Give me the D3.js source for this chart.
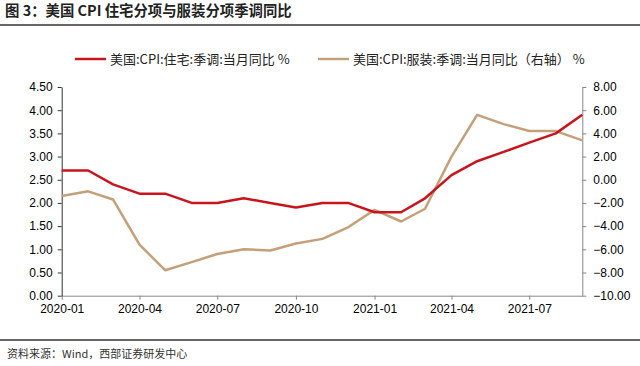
<!DOCTYPE html>
<html><head><meta charset="utf-8">
<script src="https://cdn.jsdelivr.net/npm/d3@7"></script>
<style>
body{margin:0;background:#fff;}
svg{display:block;}
</style></head>
<body>
<svg id="chart" width="640" height="366"></svg>
<script>
const titleText = "图 3：美国 CPI 住宅分项与服装分项季调同比";
const sourceText = "资料来源：Wind，西部证券研发中心";
const seriesNames = ["美国:CPI:住宅:季调:当月同比 %", "美国:CPI:服装:季调:当月同比（右轴） %"];
const months = ["2020-01","2020-02","2020-03","2020-04","2020-05","2020-06","2020-07","2020-08","2020-09","2020-10","2020-11","2020-12",
                "2021-01","2021-02","2021-03","2021-04","2021-05","2021-06","2021-07","2021-08","2021-09"];
const housing = [2.7,2.7,2.4,2.2,2.2,2.0,2.0,2.1,2.0,1.9,2.0,2.0,1.8,1.8,2.1,2.6,2.9,3.1,3.3,3.5,3.9];
const apparel = [-1.4,-1.0,-1.7,-5.6,-7.8,-7.1,-6.4,-6.0,-6.1,-5.5,-5.1,-4.1,-2.6,-3.6,-2.5,2.0,5.6,4.8,4.2,4.2,3.4];
const xTickLabels = ["2020-01","2020-04","2020-07","2020-10","2021-01","2021-04","2021-07"];
const leftTicks = [0,0.5,1,1.5,2,2.5,3,3.5,4,4.5];
const rightTicks = [-10,-8,-6,-4,-2,0,2,4,6,8];

const parse = d3.utcParse("%Y-%m");
const svg = d3.select("#chart");
const L = 61.7, R = 582.3, T = 87, B = 295.7;
const cjk = "'Noto Sans CJK SC', sans-serif";
const latin = "'Liberation Sans', Arial, sans-serif";

const x = d3.scaleUtc().domain([parse(months[0]), parse(months[months.length-1])]).range([L, R]);
const yL = d3.scaleLinear().domain([0, 4.5]).range([B, T]);
const yR = d3.scaleLinear().domain([-10, 8]).range([B, T]);

// title
svg.append("text").attr("x", 5).attr("y", 16).attr("font-family", cjk).attr("font-size", 14.4)
  .attr("font-weight", "bold").attr("fill", "#222").text(titleText);
svg.append("line").attr("x1", 0).attr("x2", 640).attr("y1", 25).attr("y2", 25).attr("stroke", "#333").attr("stroke-width", 1.5);

// footer
svg.append("line").attr("x1", 0).attr("x2", 640).attr("y1", 340).attr("y2", 340).attr("stroke", "#333").attr("stroke-width", 1.5);
svg.append("text").attr("x", 7).attr("y", 358).attr("font-family", cjk).attr("font-size", 11)
  .attr("fill", "#333").text(sourceText);

// axes
const xAxis = d3.axisBottom(x).tickValues(xTickLabels.map(parse)).tickFormat(d3.utcFormat("%Y-%m")).tickSize(4).tickSizeOuter(0);
const gx = svg.append("g").attr("transform", `translate(0,${B})`).call(xAxis);
gx.select(".domain").attr("stroke", "#888");
gx.selectAll(".tick line").attr("stroke", "#888");
gx.selectAll("text").attr("font-family", latin).attr("font-size", 12).attr("fill", "#000").attr("dy", "0.9em");

const gl = svg.append("g").attr("transform", `translate(${L},0)`)
  .call(d3.axisLeft(yL).tickValues(leftTicks).tickFormat(d3.format(".2f")).tickSize(4).tickSizeOuter(0));
gl.select(".domain").attr("stroke", "#333");
gl.selectAll(".tick line").attr("stroke", "#333");
gl.selectAll("text").attr("font-family", latin).attr("font-size", 12).attr("fill", "#000").attr("x", -9);

const gr = svg.append("g").attr("transform", `translate(${R},0)`)
  .call(d3.axisRight(yR).tickValues(rightTicks).tickFormat(d3.format(".2f")).tickSize(4).tickSizeOuter(0));
gr.select(".domain").attr("stroke", "#888");
gr.selectAll(".tick line").attr("stroke", "#888");
gr.selectAll("text").attr("font-family", latin).attr("font-size", 12).attr("fill", "#000").attr("x", 11);

// lines
const colors = ["#c8151d", "#c4a07a"];
const lineL = d3.line().x((d, i) => x(parse(months[i]))).y(d => yL(d));
const lineR = d3.line().x((d, i) => x(parse(months[i]))).y(d => yR(d));
svg.append("path").datum(apparel).attr("d", lineR).attr("fill", "none").attr("stroke", colors[1]).attr("stroke-width", 2.5).attr("stroke-linejoin", "round");
svg.append("path").datum(housing).attr("d", lineL).attr("fill", "none").attr("stroke", colors[0]).attr("stroke-width", 2.5).attr("stroke-linejoin", "round");

// legend
const legend = [{x: 75, name: seriesNames[0], c: colors[0]}, {x: 318, name: seriesNames[1], c: colors[1]}];
legend.forEach(l => {
  svg.append("line").attr("x1", l.x).attr("x2", l.x + 31).attr("y1", 59).attr("y2", 59).attr("stroke", l.c).attr("stroke-width", 2.5);
  svg.append("text").attr("x", l.x + 35).attr("y", 63.5).attr("font-family", cjk).attr("font-size", 13).attr("fill", "#222").text(l.name);
});
</script>
</body></html>
